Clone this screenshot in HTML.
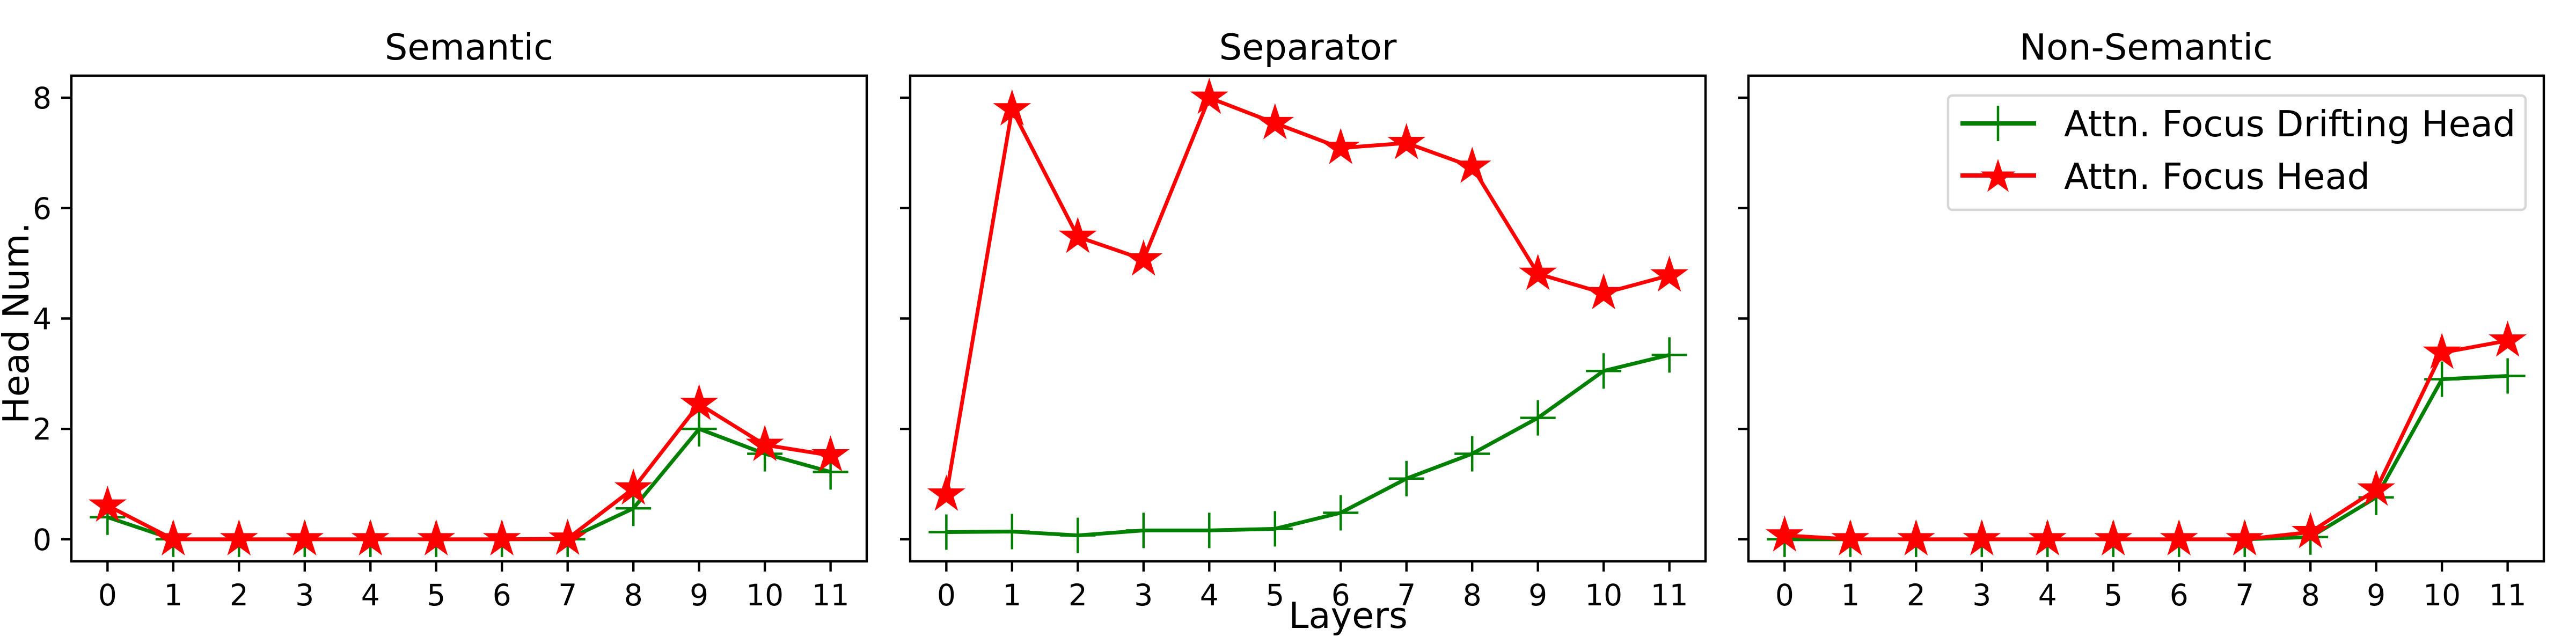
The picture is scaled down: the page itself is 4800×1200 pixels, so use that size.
<!DOCTYPE html>
<html><head><meta charset="utf-8"><style>
html,body{margin:0;padding:0;background:#fff;}
svg{display:block;font-family:"DejaVu Sans","Liberation Sans",sans-serif;}
</style></head><body>
<svg id="chart" width="4800" height="1200" viewBox="0 0 4800 1200" xmlns="http://www.w3.org/2000/svg">
<rect width="4800" height="1200" fill="#fff"/>
</svg>
<script>
const layers = [0,1,2,3,4,5,6,7,8,9,10,11];
const yTicks = [0,2,4,6,8];
const panelTitles = ["Semantic","Separator","Non-Semantic"];
const semanticDrift = [0.4,0,0,0,0,0,0,0,0.56,2.0,1.55,1.22];
const semanticFocus = [0.61,0,0,0,0,0,0,0.01,0.92,2.45,1.71,1.52];
const separatorDrift = [0.13,0.14,0.07,0.16,0.16,0.19,0.48,1.1,1.55,2.2,3.05,3.34];
const separatorFocus = [0.81,7.79,5.48,5.07,8.0,7.54,7.09,7.18,6.75,4.81,4.46,4.78];
const nonSemanticDrift = [0,0,0,0,0,0,0,0,0.04,0.76,2.9,2.96];
const nonSemanticFocus = [0.07,0,0,0,0,0,0,0,0.13,0.9,3.38,3.6];
const driftSeries = [semanticDrift, separatorDrift, nonSemanticDrift];
const focusSeries = [semanticFocus, separatorFocus, nonSemanticFocus];

const NS = "http://www.w3.org/2000/svg";
const svg = document.getElementById("chart");
function mk(tag, attrs, parent){
  const e = document.createElementNS(NS, tag);
  for (const k in attrs) e.setAttribute(k, attrs[k]);
  (parent||svg).appendChild(e);
  return e;
}
const panelLefts = [133, 1696, 3258];
const PW = 1482, TOP = 141, BOT = 1046;
const XMIN = -0.55, XMAX = 11.55, YMIN = -0.4, YMAX = 8.4;
function starPath(cx, cy, R){
  const r = R*0.381966; let d = "";
  for (let i=0;i<10;i++){
    const a = -Math.PI/2 + i*Math.PI/5;
    const rr = i%2===0 ? R : r;
    d += (i===0?"M":"L") + (cx+rr*Math.cos(a)).toFixed(1) + "," + (cy+rr*Math.sin(a)).toFixed(1);
  }
  return d+"Z";
}

panelLefts.forEach((L, p) => {
  const xS = v => L + (v - XMIN) / (XMAX - XMIN) * PW;
  const yS = v => BOT - (v - YMIN) / (YMAX - YMIN) * (BOT - TOP);
  const g = mk("g", {});
  
  

  const title = mk("text", {x: L + PW/2, y: 111, "text-anchor": "middle", "font-size": 67}, g);
  title.textContent = panelTitles[p];
  
  

  layers.forEach(v => {
    const x = xS(v);
    const t = mk("line", {x1: x, x2: x, y1: BOT, y2: BOT + 19, stroke: "#000", "stroke-width": 4.4}, g);
    
    
    const lab = mk("text", {x: x, y: 1128, "text-anchor": "middle", "font-size": 55}, g);
    lab.textContent = String(v);
    
    
  });
  yTicks.forEach(v => {
    const y = yS(v);
    const t = mk("line", {x1: L - 19, x2: L, y1: y, y2: y, stroke: "#000", "stroke-width": 4.4}, g);
    
    
    if (p === 0) {
      const lab = mk("text", {x: 96, y: y + 20, "text-anchor": "end", "font-size": 55}, g);
      lab.textContent = String(v);
      
      
    }
  });

  const dv = driftSeries[p];
  const gl = mk("polyline", {points: dv.map((v,i)=>xS(layers[i])+","+yS(v)).join(" "), fill: "none", stroke: "#008000", "stroke-width": 7, "stroke-linejoin": "round"}, g);
  
  
  dv.forEach((v,i) => {
    const x = xS(layers[i]), y = yS(v);
    const m = mk("path", {d: `M${x-33},${y}H${x+33}M${x},${y-33}V${y+33}`, stroke: "#008000", "stroke-width": 4.5, fill: "none"}, g);
    
    
  });
  const fv = focusSeries[p];
  const rl = mk("polyline", {points: fv.map((v,i)=>xS(layers[i])+","+yS(v)).join(" "), fill: "none", stroke: "#ff0000", "stroke-width": 7, "stroke-linejoin": "round"}, g);
  
  
  fv.forEach((v,i) => {
    const s = mk("path", {d: starPath(xS(layers[i]), yS(v), 34), fill: "#ff0000", stroke: "#ff0000", "stroke-width": 2}, g);
    
    
  });

  const frame = mk("rect", {x: L, y: TOP, width: PW, height: BOT - TOP, fill: "none", stroke: "#000", "stroke-width": 4.4}, g);
  
  
});

const yl = mk("text", {x: 0, y: 0, "text-anchor": "middle", "font-size": 67, transform: "translate(53,602) rotate(-90)"});
yl.textContent = "Head Num.";


const xl = mk("text", {x: 2512, y: 1170, "text-anchor": "middle", "font-size": 67});
xl.textContent = "Layers";



const lg = mk("g", {});


mk("rect", {x: 3630, y: 178, width: 1076, height: 213, rx: 8, fill: "#fff", stroke: "#d6d6d6", "stroke-width": 4.4}, lg);
const e1 = mk("g", {}, lg);


mk("line", {x1: 3653, x2: 3794, y1: 230, y2: 230, stroke: "#008000", "stroke-width": 8}, e1);
mk("path", {d: "M3723,197V263", stroke: "#008000", "stroke-width": 4.5}, e1);
const t1 = mk("text", {x: 3846, y: 254, "font-size": 67}, e1);
t1.textContent = "Attn. Focus Drifting Head";
const e2 = mk("g", {}, lg);


mk("line", {x1: 3653, x2: 3794, y1: 327, y2: 327, stroke: "#ff0000", "stroke-width": 8}, e2);
mk("path", {d: starPath(3723, 330, 34), fill: "#ff0000"}, e2);
const t2 = mk("text", {x: 3846, y: 352, "font-size": 67}, e2);
t2.textContent = "Attn. Focus Head";
</script>
</body></html>
